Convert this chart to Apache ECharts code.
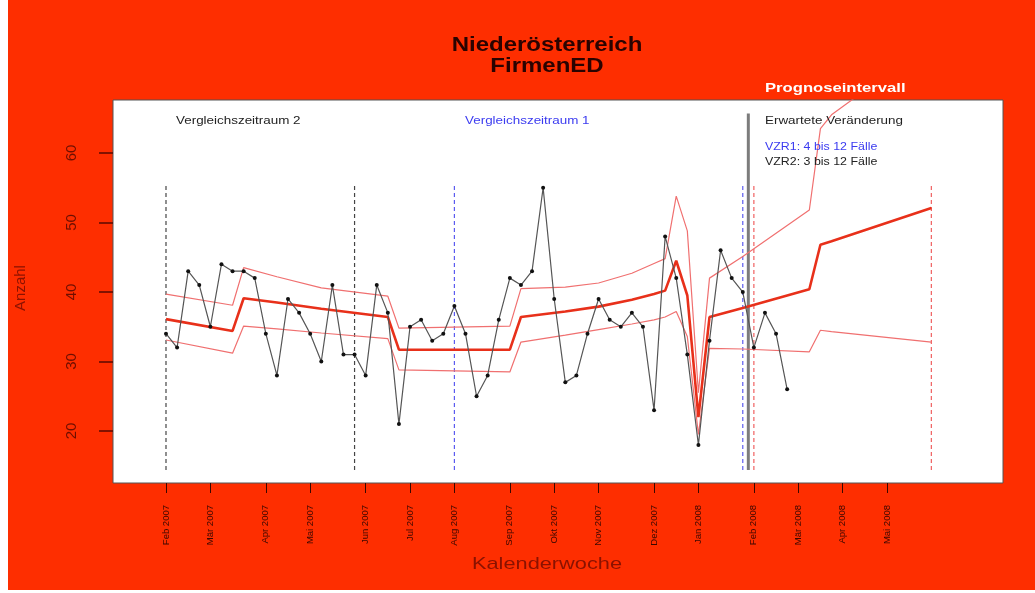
<!DOCTYPE html>
<html>
<head>
<meta charset="utf-8">
<script src="https://cdn.jsdelivr.net/npm/echarts@6/dist/echarts.min.js"></script>
<style>
  html, body { margin: 0; padding: 0; background: #ffffff; }
  #chart { width: 1035px; height: 593px; }
</style>
</head>
<body>
<div id="chart"></div>
<script>
// ---- data ----
// weekly counts (week index 0 = first week of Feb 2007)
const counts = [34, 32, 43, 41, 35, 44, 43, 43, 42, 34, 28, 39, 37, 34, 30, 41, 31, 31, 28, 41,
                37, 21, 35, 36, 33, 34, 38, 34, 25, 28, 36, 42, 41, 43, 55, 39, 27, 28, 34, 39,
                36, 35, 37, 35, 23, 48, 42, 31, 18, 33, 46, 42, 40, 32, 37, 34, 26];

// expected value and forecast interval, at knot weeks
const bandWeeks = [0, 6, 7, 10, 14, 20, 21, 31, 32, 36, 39, 42, 44, 45, 46, 47, 48, 49, 52, 58, 59, 60, 69];
const bandMid   = [36.1, 34.4, 39.1, 38.5, 37.6, 36.4, 31.7, 31.7, 36.4, 37.2, 37.9, 38.9, 39.7, 40.2, 44.5, 39.5, 22.0, 36.4, 37.7, 40.4, 46.8, 47.3, 52.1];
const bandUpper = [39.7, 38.1, 43.5, 42.2, 40.6, 39.4, 34.8, 35.1, 40.5, 40.7, 41.3, 42.7, 44.1, 44.8, 53.8, 48.8, 25.5, 42.0, 45.1, 51.8, 63.5, 65.5, 76.0];
const bandLower = [33.1, 31.2, 35.1, 34.7, 34.1, 33.3, 28.8, 28.5, 32.8, 33.8, 34.6, 35.4, 36.0, 36.4, 37.2, 33.6, 19.5, 31.9, 31.8, 31.4, 34.5, 34.3, 32.8];

// reference period boundaries (weeks)
const vzr2Weeks = [0, 17];
const vzr1Weeks = [26, 52];
const forecastWeeks = [53, 69];
const nowWeek = 52.5;
const refSpan = [14.4, 55.7];
const nowSpan = [14.4, 65.7];

// axis ticks
const tickWeeks  = [0, 4, 9, 13, 18, 22, 26, 31, 35, 39, 44, 48, 53, 57, 61, 65];
const tickLabels = ['Feb 2007', 'Mär 2007', 'Apr 2007', 'Mai 2007', 'Jun 2007', 'Jul 2007', 'Aug 2007', 'Sep 2007',
                    'Okt 2007', 'Nov 2007', 'Dez 2007', 'Jan 2008', 'Feb 2008', 'Mär 2008', 'Apr 2008', 'Mai 2008'];
const yTicks = [20, 30, 40, 50, 60];

// ---- chart ----
const chart = echarts.init(document.getElementById('chart'), null, { renderer: 'canvas' });
const FONT = '"Liberation Sans", Arial, sans-serif';

const pairs = (ws, vs) => ws.map((w, i) => [w, vs[i]]);
const vline = (w, span) => [[w, span[0]], [w, span[1]]];

const series = [];
function addVLines(weeks, color, dashed, width, span) {
  weeks.forEach(w => series.push({
    type: 'line', data: vline(w, span), symbol: 'none', silent: true, z: 1,
    lineStyle: { color: color, width: width, type: dashed ? [4, 3] : 'solid' }
  }));
}
addVLines(vzr2Weeks, '#444444', true, 1.2, refSpan);
addVLines(vzr1Weeks, '#5b5bf0', true, 1.2, refSpan);
addVLines(forecastWeeks, '#f06060', true, 1.2, refSpan);
addVLines([nowWeek], '#7c7c7c', false, 3, nowSpan);

series.push({
  type: 'line', data: pairs(bandWeeks, bandUpper), symbol: 'none', z: 3,
  lineStyle: { color: '#f07070', width: 1.2 }
});
series.push({
  type: 'line', data: pairs(bandWeeks, bandLower), symbol: 'none', z: 3,
  lineStyle: { color: '#f07070', width: 1.2 }
});
series.push({
  type: 'line', data: pairs(bandWeeks, bandMid), symbol: 'none', z: 4,
  lineStyle: { color: '#e8301a', width: 2.6 }
});
series.push({
  type: 'line', data: counts.map((v, i) => [i, v]), z: 5,
  symbol: 'circle', symbolSize: 4,
  itemStyle: { color: '#111111' },
  lineStyle: { color: '#555555', width: 1.2 }
});

function txt(text, x, y, size, fill, sx, opts) {
  return Object.assign({
    type: 'text', x: x, y: y, scaleX: sx, z: 20, silent: true,
    style: Object.assign({ text: text, fontSize: size, fill: fill, fontFamily: FONT,
      textAlign: 'left', textVerticalAlign: 'middle' }, (opts && opts.style) || {})
  }, (opts && opts.el) || {});
}

chart.setOption({
  animation: false,
  backgroundColor: 'transparent',
  graphic: [
    { type: 'rect', shape: { x: 8, y: 0, width: 1027, height: 590 }, style: { fill: '#fe2e00' }, z: -10, silent: true },
    txt('Niederösterreich', 547, 45, 20, '#2a0300', 1.2, { style: { fontWeight: 'bold', textAlign: 'center' } }),
    txt('FirmenED', 547, 66, 20, '#2a0300', 1.2, { style: { fontWeight: 'bold', textAlign: 'center' } }),
    txt('Prognoseintervall', 765, 88, 13, '#ffffff', 1.28, { style: { fontWeight: 'bold' } }),
    txt('Vergleichszeitraum 2', 176, 121, 11, '#222222', 1.22),
    txt('Vergleichszeitraum 1', 465, 121, 11, '#3b3bf0', 1.22),
    txt('Erwartete Veränderung', 765, 121, 11, '#222222', 1.22),
    txt('VZR1: 4 bis 12 Fälle', 765, 147, 10, '#3b3bf0', 1.24),
    txt('VZR2: 3 bis 12 Fälle', 765, 162, 10, '#222222', 1.24),
    txt('Anzahl', 21, 288, 15, '#8a1200', 1, { style: { textAlign: 'center' }, el: { rotation: Math.PI / 2 } }),
    txt('Kalenderwoche', 547, 564, 17, '#8a1200', 1.28, { style: { textAlign: 'center' } })
  ],
  grid: {
    left: 113, top: 100, width: 890, height: 383,
    show: true, backgroundColor: '#ffffff', borderColor: '#555555', borderWidth: 1
  },
  xAxis: {
    type: 'value', min: -4.778, max: 75.46,
    splitLine: { show: false },
    axisLine: { show: false, onZero: false },
    axisTick: { show: true, customValues: tickWeeks, length: 10, lineStyle: { color: '#3a0800', width: 1 } },
    axisLabel: {
      customValues: tickWeeks, rotate: 90, margin: 22, fontSize: 9.5, color: '#3a0800', fontFamily: FONT,
      formatter: v => { const i = tickWeeks.indexOf(v); return i >= 0 ? tickLabels[i] : ''; }
    }
  },
  yAxis: {
    type: 'value', min: 12.52, max: 67.63,
    splitLine: { show: false },
    axisLine: { show: false, onZero: false },
    axisTick: { show: true, customValues: yTicks, length: 14, lineStyle: { color: '#5a0a00', width: 1.5 } },
    axisLabel: { customValues: yTicks, rotate: 90, margin: 34, fontSize: 15, color: '#6e0f00', fontFamily: FONT }
  },
  series: series
});
</script>
</body>
</html>
